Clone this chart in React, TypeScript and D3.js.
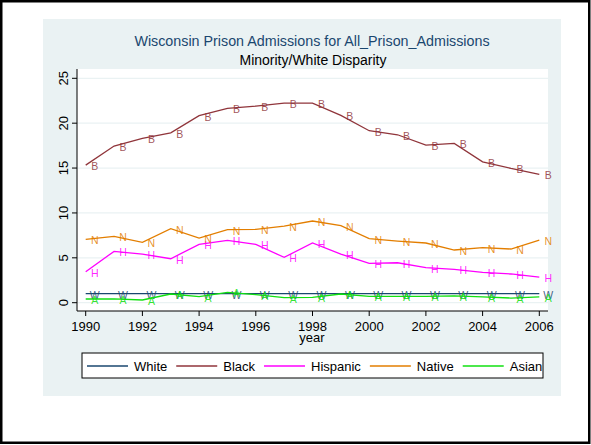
import React from 'react';
import * as d3 from 'd3';

const years = [1990, 1991, 1992, 1993, 1994, 1995, 1996, 1997, 1998, 1999, 2000, 2001, 2002, 2003, 2004, 2005, 2006];
const white = [1, 1, 1, 1, 1, 1, 1, 1, 1, 1, 1, 1, 1, 1, 1, 1, 1];
const black = [15.33, 17.45, 18.3, 18.93, 20.83, 21.64, 21.9, 22.24, 22.24, 20.87, 19.16, 18.71, 17.56, 17.75, 15.7, 14.96, 14.3];
const hispanic = [3.45, 5.72, 5.42, 4.9, 6.5, 6.95, 6.5, 5.05, 6.65, 5.42, 4.38, 4.45, 3.9, 3.72, 3.38, 3.2, 2.86];
const native = [7.06, 7.39, 6.73, 8.24, 7.2, 8.13, 8.17, 8.54, 9.1, 8.58, 7.13, 6.87, 6.65, 5.87, 6.13, 5.98, 6.98];
const asian = [0.41, 0.43, 0.3, 0.97, 0.67, 1.16, 0.9, 0.56, 0.6, 0.97, 0.71, 0.71, 0.71, 0.75, 0.64, 0.52, 0.64];

const seriesNames = ['White', 'Black', 'Hispanic', 'Native', 'Asian'];
const seriesLetters = ['W', 'B', 'H', 'N', 'A'];
const seriesValues = [white, black, hispanic, native, asian];
const seriesColors = ['#1a476f', '#90353b', '#ff00ff', '#e37e00', '#10e010'];

const xTicks = [1990, 1992, 1994, 1996, 1998, 2000, 2002, 2004, 2006];
const yTicks = [0, 5, 10, 15, 20, 25];

const titleText = 'Wisconsin Prison Admissions for All_Prison_Admissions';
const subtitleText = 'Minority/White Disparity';
const xTitle = 'year';

const FONT = "'Liberation Sans', Arial, Helvetica, sans-serif";

function measure(text: string, size: number): number {
  if (typeof document === 'undefined') return text.length * size * 0.55;
  const c = document.createElement('canvas');
  const ctx = c.getContext('2d');
  if (!ctx) return text.length * size * 0.55;
  ctx.font = `${size}px ${FONT}`;
  return ctx.measureText(text).width;
}

export default function App() {
  const W = 591;
  const H = 445;
  const plot = { left: 77, right: 548, top: 69, bottom: 311 };
  const x = d3.scaleLinear().domain([1990, 2006]).range([85.7, 539.3]);
  const y = d3.scaleLinear().domain([0, 25]).range([302.7, 78.3]);

  const line = d3
    .line<[number, number]>()
    .x((d) => x(d[0]))
    .y((d) => y(d[1]));

  // legend layout
  const legendLeft = 82;
  const legendRight = 543;
  const legendTop = 353;
  const legendBottom = 378;
  const legendMid = 366;
  let cursor = 87;
  const legendItems = seriesNames.map((name, i) => {
    const x0 = cursor;
    const tw = measure(name, 13);
    cursor = x0 + 41 + 6 + tw + 9;
    return { name, color: seriesColors[i], x0 };
  });

  return (
    <svg
      width={W}
      height={H}
      style={{ position: 'absolute', left: 0, top: 0, fontFamily: FONT }}
    >
      <rect x={0} y={0} width={W} height={H} fill="#ffffff" />
      <rect x={43} y={19} width={518} height={377} fill="#eaf2f3" />
      <rect
        x={plot.left}
        y={plot.top}
        width={plot.right - plot.left}
        height={plot.bottom - plot.top}
        fill="#ffffff"
      />
      {/* gridlines */}
      {yTicks.map((t) => (
        <line
          key={'g' + t}
          x1={plot.left}
          x2={plot.right}
          y1={y(t)}
          y2={y(t)}
          stroke="#eaf2f3"
          strokeWidth={1.2}
        />
      ))}
      {/* axes */}
      <line x1={plot.left} x2={plot.left} y1={plot.top} y2={plot.bottom} stroke="#000" strokeWidth={1} />
      <line x1={plot.left} x2={plot.right} y1={plot.bottom} y2={plot.bottom} stroke="#000" strokeWidth={1} />
      {yTicks.map((t) => (
        <g key={'yt' + t}>
          <line x1={plot.left - 5} x2={plot.left} y1={y(t)} y2={y(t)} stroke="#000" />
          <text
            transform={`translate(68,${y(t)}) rotate(-90)`}
            textAnchor="middle"
            fontSize={13}
            fill="#000"
          >
            {t}
          </text>
        </g>
      ))}
      {xTicks.map((t) => (
        <g key={'xt' + t}>
          <line x1={x(t)} x2={x(t)} y1={plot.bottom} y2={plot.bottom + 5} stroke="#000" />
          <text x={x(t)} y={331} textAnchor="middle" fontSize={13} fill="#000">
            {t}
          </text>
        </g>
      ))}
      <text x={312} y={342} textAnchor="middle" fontSize={13} fill="#000">
        {xTitle}
      </text>
      {/* titles */}
      <text x={312} y={46} textAnchor="middle" fontSize={14.3} fill="#1a476f">
        {titleText}
      </text>
      <text x={313} y={64.5} textAnchor="middle" fontSize={14} fill="#000">
        {subtitleText}
      </text>
      {/* series */}
      {seriesValues.map((vals, i) => {
        const pts = years.map((yr, j) => [yr, vals[j]] as [number, number]);
        return (
          <g key={'s' + i}>
            <path d={line(pts) || ''} fill="none" stroke={seriesColors[i]} strokeWidth={1.3} />
            {pts.map((p, j) => (
              <text
                key={j}
                x={x(p[0]) + 9}
                y={y(p[1]) + 1}
                textAnchor="middle"
                dominantBaseline="central"
                fontSize={10.5}
                fill={seriesColors[i]}
                fillOpacity={0.85}
              >
                {seriesLetters[i]}
              </text>
            ))}
          </g>
        );
      })}
      {/* legend */}
      <rect
        x={legendLeft}
        y={legendTop}
        width={legendRight - legendLeft}
        height={legendBottom - legendTop}
        fill="#ffffff"
        stroke="#000"
        strokeWidth={1}
      />
      {legendItems.map((it) => (
        <g key={'l' + it.name}>
          <line x1={it.x0} x2={it.x0 + 41} y1={legendMid} y2={legendMid} stroke={it.color} strokeWidth={1.3} />
          <text x={it.x0 + 47} y={legendMid} dominantBaseline="central" fontSize={13} fill="#000">
            {it.name}
          </text>
        </g>
      ))}
      {/* outer border */}
      <rect x={1.25} y={1.25} width={W - 3} height={H - 3.5} fill="none" stroke="#000" strokeWidth={2.5} />
    </svg>
  );
}
